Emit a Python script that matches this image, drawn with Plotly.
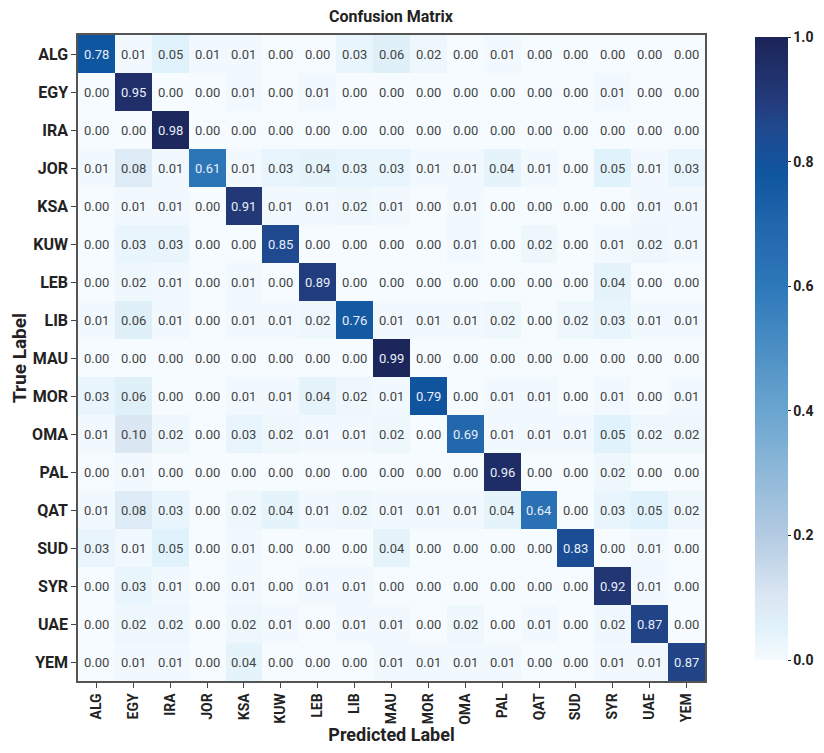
import plotly.graph_objects as go

labels = ["ALG", "EGY", "IRA", "JOR", "KSA", "KUW", "LEB", "LIB", "MAU",
          "MOR", "OMA", "PAL", "QAT", "SUD", "SYR", "UAE", "YEM"]

row_ALG = [0.78, 0.01, 0.05, 0.01, 0.01, 0.00, 0.00, 0.03, 0.06, 0.02, 0.00, 0.01, 0.00, 0.00, 0.00, 0.00, 0.00]
row_EGY = [0.00, 0.95, 0.00, 0.00, 0.01, 0.00, 0.01, 0.00, 0.00, 0.00, 0.00, 0.00, 0.00, 0.00, 0.01, 0.00, 0.00]
row_IRA = [0.00, 0.00, 0.98, 0.00, 0.00, 0.00, 0.00, 0.00, 0.00, 0.00, 0.00, 0.00, 0.00, 0.00, 0.00, 0.00, 0.00]
row_JOR = [0.01, 0.08, 0.01, 0.61, 0.01, 0.03, 0.04, 0.03, 0.03, 0.01, 0.01, 0.04, 0.01, 0.00, 0.05, 0.01, 0.03]
row_KSA = [0.00, 0.01, 0.01, 0.00, 0.91, 0.01, 0.01, 0.02, 0.01, 0.00, 0.01, 0.00, 0.00, 0.00, 0.00, 0.01, 0.01]
row_KUW = [0.00, 0.03, 0.03, 0.00, 0.00, 0.85, 0.00, 0.00, 0.00, 0.00, 0.01, 0.00, 0.02, 0.00, 0.01, 0.02, 0.01]
row_LEB = [0.00, 0.02, 0.01, 0.00, 0.01, 0.00, 0.89, 0.00, 0.00, 0.00, 0.00, 0.00, 0.00, 0.00, 0.04, 0.00, 0.00]
row_LIB = [0.01, 0.06, 0.01, 0.00, 0.01, 0.01, 0.02, 0.76, 0.01, 0.01, 0.01, 0.02, 0.00, 0.02, 0.03, 0.01, 0.01]
row_MAU = [0.00, 0.00, 0.00, 0.00, 0.00, 0.00, 0.00, 0.00, 0.99, 0.00, 0.00, 0.00, 0.00, 0.00, 0.00, 0.00, 0.00]
row_MOR = [0.03, 0.06, 0.00, 0.00, 0.01, 0.01, 0.04, 0.02, 0.01, 0.79, 0.00, 0.01, 0.01, 0.00, 0.01, 0.00, 0.01]
row_OMA = [0.01, 0.10, 0.02, 0.00, 0.03, 0.02, 0.01, 0.01, 0.02, 0.00, 0.69, 0.01, 0.01, 0.01, 0.05, 0.02, 0.02]
row_PAL = [0.00, 0.01, 0.00, 0.00, 0.00, 0.00, 0.00, 0.00, 0.00, 0.00, 0.00, 0.96, 0.00, 0.00, 0.02, 0.00, 0.00]
row_QAT = [0.01, 0.08, 0.03, 0.00, 0.02, 0.04, 0.01, 0.02, 0.01, 0.01, 0.01, 0.04, 0.64, 0.00, 0.03, 0.05, 0.02]
row_SUD = [0.03, 0.01, 0.05, 0.00, 0.01, 0.00, 0.00, 0.00, 0.04, 0.00, 0.00, 0.00, 0.00, 0.83, 0.00, 0.01, 0.00]
row_SYR = [0.00, 0.03, 0.01, 0.00, 0.01, 0.00, 0.01, 0.01, 0.00, 0.00, 0.00, 0.00, 0.00, 0.00, 0.92, 0.01, 0.00]
row_UAE = [0.00, 0.02, 0.02, 0.00, 0.02, 0.01, 0.00, 0.01, 0.01, 0.00, 0.02, 0.00, 0.01, 0.00, 0.02, 0.87, 0.00]
row_YEM = [0.00, 0.01, 0.01, 0.00, 0.04, 0.00, 0.00, 0.00, 0.01, 0.01, 0.01, 0.01, 0.00, 0.00, 0.01, 0.01, 0.87]

z = [row_ALG, row_EGY, row_IRA, row_JOR, row_KSA, row_KUW, row_LEB, row_LIB, row_MAU,
     row_MOR, row_OMA, row_PAL, row_QAT, row_SUD, row_SYR, row_UAE, row_YEM]

colorscale = [
    [0.00, "#f5fbff"],
    [0.02, "#eef7fc"],
    [0.05, "#e0f2fb"],
    [0.10, "#dbe7f3"],
    [0.20, "#b3cbe2"],
    [0.40, "#6aa5cf"],
    [0.60, "#2d78b9"],
    [0.70, "#2266ac"],
    [0.78, "#0f56a0"],
    [0.85, "#1f4a90"],
    [0.90, "#233a7a"],
    [1.00, "#1c2458"],
]

FONT = "Roboto"
# the page places the figure 8px in from each edge of the window (default body margin)
OFF = 8
W, H = 824 - 2 * OFF, 753 - 2 * OFF


def px(v):
    return v - OFF


fig = go.Figure()
fig.add_trace(go.Heatmap(
    z=z, x=labels, y=labels,
    zmin=0, zmax=1,
    colorscale=colorscale,
    xgap=0, ygap=0,
    colorbar=dict(
        x=px(755) / W, xanchor="left", xref="paper",
        y=(H - px(37)) / H, yanchor="top",
        len=(660 - 37) / H, lenmode="fraction",
        thickness=33,
        xpad=0, ypad=0,
        outlinewidth=0,
        tickvals=[0, 0.2, 0.4, 0.6, 0.8, 1.0],
        ticktext=["0.0", "0.2", "0.4", "0.6", "0.8", "1.0"],
        ticks="outside", ticklen=3, tickcolor="#222",
        tickfont=dict(family=FONT, size=14, color="#222", weight="bold"),
    ),
    hoverinfo="skip",
))

annotations = []
for i, row in enumerate(z):
    for j, v in enumerate(row):
        annotations.append(dict(
            x=labels[j], y=labels[i], xref="x", yref="y",
            text=f"{v:.2f}", showarrow=False,
            font=dict(family=FONT, size=13,
                      color="#e8eef8" if v > 0.5 else "#444444"),
        ))

fig.update_layout(
    width=W, height=H,
    margin=dict(l=0, r=0, t=0, b=0),
    paper_bgcolor="white", plot_bgcolor="white",
    annotations=annotations,
    title=dict(text="Confusion Matrix", x=px(391) / W, xref="container", xanchor="center",
               y=1 - px(16) / H, yanchor="middle",
               font=dict(family=FONT, size=16, color="#222", weight="bold")),
    xaxis=dict(
        domain=[px(78) / W, px(705) / W],
        automargin=False,
        title=dict(text="Predicted Label", standoff=5,
                   font=dict(family=FONT, size=18, color="#222", weight="bold")),
        tickangle=-90,
        tickfont=dict(family=FONT, size=14, color="#222", weight="bold"),
        ticks="outside", ticklen=5, tickcolor="#444",
        showline=True, linecolor="#555", linewidth=1.5, mirror=True,
        showgrid=False, zeroline=False,
    ),
    yaxis=dict(
        domain=[(H - px(681)) / H, (H - px(35)) / H],
        automargin=False,
        title=dict(text="True Label", standoff=12,
                   font=dict(family=FONT, size=19, color="#222", weight="bold")),
        autorange="reversed",
        tickfont=dict(family=FONT, size=16, color="#222", weight="bold"),
        ticks="outside", ticklen=5, tickcolor="#444",
        showline=True, linecolor="#555", linewidth=1.5, mirror=True,
        showgrid=False, zeroline=False,
    ),
)

fig.write_html("out.html")
